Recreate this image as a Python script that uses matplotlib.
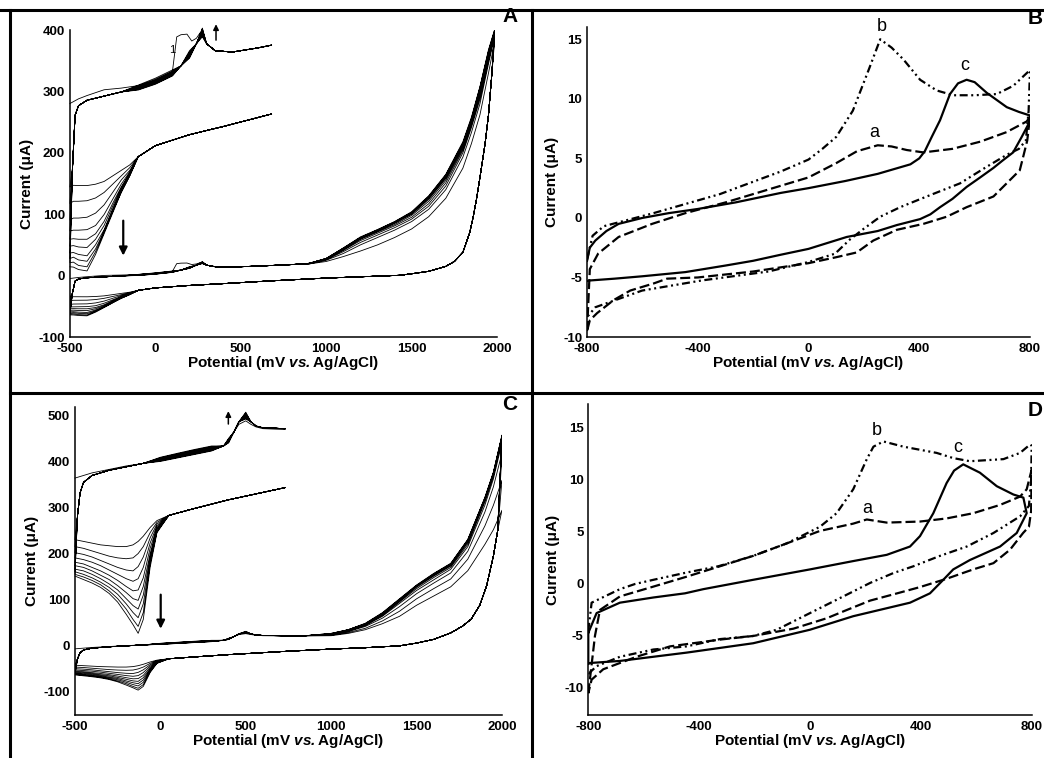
"""
cyclic voltammograms: repeated cycling (A, C) and three electrodes a/b/c (B, D)
"""

import matplotlib.pyplot as plt
import numpy as np
from matplotlib.lines import Line2D

plt.rcParams["font.family"] = ["Liberation Sans", "DejaVu Sans"]
plt.rcParams["mathtext.fontset"] = "custom"
plt.rcParams["mathtext.rm"] = "Liberation Sans"
plt.rcParams["mathtext.bf"] = "Liberation Sans:bold"
plt.rcParams["mathtext.bfit"] = "Liberation Sans:italic:bold"
plt.rcParams["axes.unicode_minus"] = False

XLABEL = r"Potential (mV $\mathbfit{vs.}$Ag/AgCl)"
YLABEL = "Current (μA)"

# ---------------- panel A: repeated cycling, -500 .. 2000 mV ----------------
A_first_x = [-500, -450, -400, -300, -200, -100, 0, 60, 100, 110, 125, 150, 185, 213, 240, 262, 280, 300, 350, 450, 600, 680, 800]
A_first_y = [-4.7, -3.0, -1.8, 0.3, 0.9, 1.8, 3.5, 5.2, 7.0, 12.0, 19.5, 20.3, 20.5, 18.0, 19.0, 21.0, 19.5, 17.0, 14.5, 14.0, 15.5, 16.5, 18.0]

A_fwd_x = [-485, -470, -450, -400, -300, -200, -100, 0, 100, 150, 200, 240, 275, 300, 350, 450, 600, 680, 800]
A_fwd_y = [-28, -9, -5.5, -3.5, -2, -0.5, 1, 3.3, 6.5, 9, 13, 17, 21, 17, 14.5, 14, 15.5, 16.5, 18]
# cycle-to-cycle values of the forward sweep (cycles 2..10)
A_var_x = [-100, 0, 100, 200, 275]
A_var = [
    [2.0, 4.5, 7.5, 14.5, 19.5],
    [1.7, 4.1, 7.1, 14.0, 20.0],
    [1.4, 3.8, 6.8, 13.6, 20.5],
    [1.2, 3.5, 6.5, 13.2, 21.0],
    [1.0, 3.2, 6.2, 12.8, 21.4],
    [0.8, 3.0, 5.9, 12.5, 21.8],
    [0.6, 2.7, 5.7, 12.2, 22.1],
    [0.4, 2.5, 5.5, 12.0, 22.4],
    [0.2, 2.3, 5.3, 11.8, 22.7],
]

A_ox_x = [900, 1000, 1100, 1200, 1300, 1400, 1500, 1600, 1700, 1800, 1850, 1900, 1950, 1985]
A_ox = [
    [19, 23, 31, 40, 50, 62, 76, 96, 126, 175, 215, 262, 330, 380],
    [19, 25, 36, 50, 62, 74, 88, 108, 140, 193, 233, 280, 345, 388],
    [19.5, 26, 39, 54, 66, 78, 92, 113, 146, 200, 241, 287, 350, 391],
    [19.5, 26.5, 41, 57, 69, 81, 95, 117, 151, 204, 245, 292, 354, 393],
    [20, 27, 42, 59, 71, 83, 98, 121, 155, 207, 248, 296, 357, 395],
    [20, 27.5, 43, 60, 72, 85, 100, 124, 158, 210, 250, 300, 360, 396],
    [20, 27.5, 44, 61, 73, 86, 101, 126, 160, 212, 252, 303, 362, 397],
    [20, 28, 44, 62, 74, 87, 102, 128, 162, 214, 254, 305, 364, 398],
    [20, 28, 45, 62, 74.5, 87.5, 103, 129, 164, 216, 256, 307, 366, 399],
    [20, 28, 45, 63, 75, 88, 104, 130, 165, 218, 258, 308, 368, 400],
]

A_rev_x = [1970, 1950, 1930, 1900, 1880, 1860, 1840, 1800, 1750, 1700, 1600, 1500, 1430, 1200, 1000, 680, 400, 200, 0, -100]
A_rev_y = [330, 262, 215, 160, 125, 95, 70, 38, 23, 15, 7, 3, 0.5, -2, -4, -8.5, -13, -16, -20, -24]

A_tail_x = [-150, -200, -250, -300, -350, -400, -450, -480, -500]
A_tail = [
    [-27, -29, -31, -33, -34, -34.5, -34.5, -34.4, -35],
    [-28, -31, -34, -37, -39, -40, -40.2, -40.2, -41],
    [-29, -32.5, -37, -41.5, -44.5, -46, -46.3, -46.3, -47],
    [-29.5, -34, -39.5, -45, -49, -50.5, -50.7, -50.7, -51],
    [-30, -35, -41, -47.5, -52, -54, -54, -53.8, -54],
    [-30, -35.5, -42, -49, -54, -57, -56.8, -56.3, -56.5],
    [-30.5, -36, -43, -50.5, -56, -60, -59.5, -58.8, -59],
    [-30.5, -36.5, -43.5, -51, -57.5, -62, -61.5, -60.5, -61],
    [-31, -37, -44, -51.5, -58.5, -64, -63.5, -62.3, -62.5],
    [-31, -37, -44.5, -52, -59.5, -65.5, -65, -64.1, -64],
]

# ---------------- panel C: repeated cycling, -500 .. 2000 mV ----------------
C_first_x = [-500, -400, -300, -200, -100, 0, 100, 200, 300, 370, 400, 430, 460, 500, 530, 560, 600, 730, 850]
C_first_y = [-6.5, -3.5, -1.5, 0.5, 2, 4, 6, 8, 10, 12, 15, 20, 24.5, 26.5, 24.5, 23, 22, 21.5, 21.5]

C_fwd_x = [-485, -470, -450, -400, -300, -200, -100, 0, 100, 200, 300, 370, 400, 430, 460, 500, 530, 560, 600, 730, 850]
C_fwd_y = [-28, -15, -9, -5, -2, 0, 2, 4, 6, 8, 10, 12, 15, 20, 26, 30, 26, 23.5, 22.5, 22, 22]
C_var_x = [0, 100, 200, 300, 400, 500]
C_var = [
    [5.5, 7.8, 10.0, 12.0, 16.5, 27.5],
    [5.2, 7.4, 9.6, 11.6, 16.1, 28.0],
    [4.9, 7.0, 9.2, 11.2, 15.7, 28.5],
    [4.6, 6.6, 8.8, 10.8, 15.3, 29.0],
    [4.3, 6.3, 8.4, 10.4, 15.0, 29.5],
    [4.0, 6.0, 8.0, 10.0, 14.7, 30.0],
    [3.7, 5.7, 7.7, 9.7, 14.4, 30.5],
    [3.4, 5.4, 7.4, 9.4, 14.1, 31.0],
    [3.1, 5.1, 7.1, 9.1, 13.8, 31.5],
]

C_ox_x = [1000, 1100, 1200, 1300, 1400, 1500, 1600, 1700, 1800, 1900, 1950, 2000]
C_ox = [
    [22, 27, 35, 48, 64, 88, 108, 128, 163, 220, 252, 294],
    [23, 29, 38, 54, 75, 102, 124, 145, 188, 260, 305, 359],
    [24, 31, 42, 60, 85, 113, 136, 158, 205, 290, 345, 418],
    [25, 32, 44, 64, 92, 120, 143, 166, 215, 305, 362, 440],
    [25, 33, 45, 66, 95, 124, 148, 170, 220, 312, 368, 448],
    [26, 34, 46, 68, 97, 127, 151, 173, 224, 316, 372, 452],
    [26, 34, 47, 69, 99, 129, 153, 175, 227, 318, 374, 454],
    [26, 35, 48, 70, 100, 130, 155, 177, 229, 320, 375, 455],
    [27, 35, 48, 71, 101, 131, 156, 178, 230, 321, 376, 456],
    [27, 35, 49, 72, 102, 132, 157, 179, 231, 322, 377, 457],
]

C_rev_x = [1975, 1950, 1910, 1870, 1820, 1770, 1700, 1600, 1500, 1400, 1200, 1000, 730, 400, 200, 50]
C_rev_y = [250, 195, 130, 88, 58, 43, 28, 14, 6, 0, -4, -7, -12, -19, -24, -28]

C_tail_x = [-20, -60, -100, -130, -160, -200, -250, -300, -350, -400, -450, -500]
C_tail = [
    [-31, -35, -40, -43, -45, -46, -46, -45.5, -45, -44, -43, -42],
    [-32, -38, -46, -50, -52.5, -53, -52.5, -51.5, -50, -48.5, -47, -46],
    [-33, -41, -52, -57.5, -60, -59.5, -58, -56, -54, -52, -50.5, -49.5],
    [-34, -44, -58, -64.5, -66, -64.5, -62, -59.5, -57, -55, -53.5, -52.5],
    [-35, -47, -64, -71, -71.5, -69, -65.5, -62.5, -60, -58, -56, -55],
    [-35.5, -50, -69, -77, -76, -72.5, -68.5, -65, -62.5, -60, -58, -57],
    [-36, -52, -74, -82, -80, -76, -71, -67.5, -64.5, -62, -60, -59],
    [-37, -54, -79, -87, -84, -79, -73.5, -69.5, -66.5, -64, -62, -60.5],
    [-37.5, -56, -84, -92, -88, -82, -76, -71.5, -68, -65.5, -63.5, -62],
    [-38, -58, -88, -96, -91, -85, -78, -73, -69.5, -67, -65, -63],
]

# ---------------- panel B: electrodes a, b, c ----------------
B_a_x = [-800, -790, -760, -686, -565, -445, -300, -200, -100, 0, 100, 175, 250, 300, 355, 415, 520, 620, 715, 788, 800,
         790, 775, 763, 668, 571, 499, 415, 319, 234, 174, 100, 0, -200, -400, -511, -559, -644, -704, -764, -790, -800]
B_a_y = [-9.5, -4.3, -3.0, -1.6, -0.5, 0.4, 1.3, 2.0, 2.7, 3.4, 4.6, 5.6, 6.1, 6.0, 5.7, 5.5, 5.8, 6.4, 7.2, 8.1, 8.5,
         6.5, 5.1, 4.0, 1.8, 0.9, 0.1, -0.5, -1.0, -1.9, -2.9, -3.3, -3.8, -4.5, -5.0, -5.1, -5.5, -6.1, -6.9, -8.0, -8.6, -9.5]
B_b_x = [-800, -780, -740, -560, -320, -100, 0, 50, 100, 160, 220, 259, 300, 343, 403, 463, 523, 600, 680, 740, 790, 800,
         795, 785, 760, 716, 644, 547, 427, 331, 259, 200, 150, 96, 0, -145, -385, -601, -770, -795]
B_b_y = [-3.5, -1.5, -0.7, 0.4, 2.0, 3.9, 4.9, 5.8, 6.8, 9.0, 12.6, 15.0, 14.3, 13.3, 11.6, 10.7, 10.3, 10.3, 10.4, 11.1, 12.2, 12.4,
         9.0, 6.5, 5.8, 5.3, 4.3, 2.9, 1.8, 0.9, 0.1, -0.9, -1.8, -3.0, -3.7, -4.5, -5.25, -6.1, -7.5, -8.2]
B_c_x = [-800, -790, -770, -730, -686, -600, -505, -400, -264, -100, 0, 133, 250, 368, 400, 420, 445, 475, 511, 540, 571, 600, 644, 716, 760, 800,
         795, 770, 739, 700, 668, 620, 571, 520, 475, 440, 403, 319, 250, 138, 0, -102, -200, -300, -445, -600, -700, -788, -800]
B_c_y = [-3.6, -2.5, -1.9, -1.1, -0.5, 0.0, 0.4, 0.75, 1.3, 2.1, 2.5, 3.1, 3.7, 4.5, 5.0, 5.6, 6.8, 8.2, 10.4, 11.3, 11.6, 11.4, 10.5, 9.3, 8.9, 8.6,
         7.9, 6.8, 5.5, 4.8, 4.2, 3.4, 2.6, 1.6, 0.9, 0.3, -0.1, -0.6, -1.1, -1.6, -2.6, -3.1, -3.6, -4.0, -4.55, -4.9, -5.1, -5.25, -5.3]

# ---------------- panel D: electrodes a, b, c ----------------
D_a_x = [-800, -776, -758, -686, -571, -445, -325, -205, -84, 36, 156, 205, 277, 397, 493, 589, 686, 758, 782, 800,
         798, 790, 769, 722, 662, 589, 493, 397, 301, 217, 133, 60, -60, -205, -325, -505, -626, -746, -788, -800]
D_a_y = [-10.5, -5.0, -2.5, -1.2, -0.3, 0.7, 1.7, 2.7, 3.9, 5.1, 5.8, 6.2, 5.9, 6.0, 6.3, 6.8, 7.6, 8.4, 9.1, 11.0,
         7.0, 5.5, 4.9, 3.3, 2.0, 1.4, 0.5, -0.3, -1.0, -1.6, -2.5, -3.3, -4.3, -5.0, -5.35, -6.0, -7.0, -8.2, -9.2, -10.5]
D_b_x = [-800, -788, -686, -631, -565, -445, -331, -205, -84, 36, 96, 156, 205, 229, 265, 337, 457, 517, 577, 698, 758, 794, 800,
         798, 790, 758, 662, 566, 469, 373, 301, 217, 120, 0, -120, -205, -325, -445, -565, -686, -770, -794, -800]
D_b_y = [-4.5, -1.8, -0.5, 0.0, 0.4, 1.1, 1.7, 2.7, 3.9, 5.5, 6.8, 9.1, 12.0, 13.2, 13.7, 13.2, 12.6, 12.1, 11.8, 12.0, 12.6, 13.4, 13.3,
         10.0, 7.5, 6.5, 4.9, 3.6, 2.7, 1.7, 1.05, 0.1, -1.2, -2.8, -4.4, -5.0, -5.3, -6.0, -6.3, -7.0, -7.9, -8.5, -9.0]
D_c_x = [-800, -770, -686, -565, -451, -385, -205, 0, 156, 277, 361, 397, 445, 493, 520, 553, 613, 674, 734, 770,
         782, 746, 686, 577, 517, 481, 433, 361, 156, 0, -205, -445, -686, -794, -800, -800]
D_c_y = [-4.7, -2.8, -1.8, -1.3, -0.9, -0.5, 0.4, 1.4, 2.2, 2.8, 3.6, 4.6, 6.8, 9.7, 10.9, 11.5, 10.7, 9.4, 8.6, 8.3,
         6.8, 4.9, 3.6, 2.3, 1.4, 0.4, -0.9, -1.8, -3.1, -4.4, -5.7, -6.6, -7.4, -7.6, -7.7, -4.7]


def build_cycles(first_x, first_y, fwd_x, fwd_y, var_x, var_rows, ox_x, ox_rows, rev_x, rev_y, tail_x, tail_rows):
    # one continuous trace: forward sweep, oxidation wing, return sweep, cathodic tail, next cycle...
    xs, ys = [], []
    for k, (ox_y, tail_y) in enumerate(zip(ox_rows, tail_rows)):
        if k == 0:
            fx, fy = first_x, first_y
        else:
            fx, fy = fwd_x, list(fwd_y)
            for vx, vy in zip(var_x, var_rows[k - 1]):
                fy[fwd_x.index(vx)] = vy
        xs += fx + ox_x + rev_x + tail_x
        ys += fy + ox_y + rev_y + tail_y
    return np.array(xs, dtype=float), np.array(ys, dtype=float)


def style_axes(ax, xlim, ylim, xticks, yticks, ylab_x, xlab_y):
    ax.set_xlim(xlim)
    ax.set_ylim(ylim)
    ax.set_xticks(xticks)
    ax.set_yticks(yticks)
    for s in ("top", "right"):
        ax.spines[s].set_visible(False)
    for s in ("left", "bottom"):
        ax.spines[s].set_linewidth(1.1)
    ax.tick_params(length=0, labelsize=9.5)
    ax.tick_params(axis="x", pad=4)
    ax.tick_params(axis="y", pad=3.5)
    for lab in ax.get_xticklabels() + ax.get_yticklabels():
        lab.set_fontweight("bold")
    ax.set_xlabel(XLABEL, fontsize=11, fontweight="bold")
    ax.set_ylabel(YLABEL, fontsize=11, fontweight="bold")
    ax.yaxis.set_label_coords(ylab_x, 0.5)
    ax.xaxis.set_label_coords(0.5, xlab_y)


def cycling_panel(fig, rect, trace, ylim, yticks, inset_ylim, cut):
    ax = fig.add_axes(rect)
    x, y = trace
    ax.plot(x, y, color="black", lw=0.6)
    # magnified copy of the low-potential part, drawn without axes
    ax_in = fig.add_axes(rect, zorder=3)
    ax_in.set_xlim(-500, 2000)
    ax_in.set_ylim(inset_ylim)
    ax_in.axis("off")
    ax_in.plot(x, np.where(x <= cut, y, np.nan), color="black", lw=0.6, clip_on=False)
    style_axes(ax, (-500, 2000), ylim, [-500, 0, 500, 1000, 1500, 2000], yticks, -0.085, -0.054)
    return ax


def electrode_panel(fig, rect, curves, ylim, labels):
    ax = fig.add_axes(rect)
    (ax_, ay), (bx, by), (cx, cy) = curves
    ax.plot(ax_, ay, color="black", lw=1.6, dashes=(4.5, 1.8))
    ax.plot(bx, by, color="black", lw=1.6, dashes=(3.6, 1.6, 0.9, 1.6, 0.9, 1.6))
    ax.plot(cx, cy, color="black", lw=1.6)
    for txt, (lx, ly) in labels.items():
        ax.text(lx, ly, txt, fontsize=13, ha="center", va="center")
    style_axes(ax, (-800, 800), ylim, [-800, -400, 0, 400, 800], [-10, -5, 0, 5, 10, 15], -0.064, -0.055)
    return ax


fig = plt.figure(figsize=(10.44, 7.58), dpi=100)

trace_A = build_cycles(A_first_x, A_first_y, A_fwd_x, A_fwd_y, A_var_x, A_var,
                       A_ox_x, A_ox, A_rev_x, A_rev_y, A_tail_x, A_tail)
ax_A = cycling_panel(fig, [0.0670, 0.5554, 0.4091, 0.4050], trace_A, (-100, 400),
                     [-100, 0, 100, 200, 300, 400], (-89.5, 22), 680)
ax_A.annotate("", xy=(-188, 28), xytext=(-188, 94), annotation_clip=False,
              arrowprops=dict(arrowstyle="-|>", color="black", lw=1.6, mutation_scale=12))
ax_A.annotate("", xy=(355, 414), xytext=(355, 379), annotation_clip=False,
              arrowprops=dict(arrowstyle="-|>", color="black", lw=1.1, mutation_scale=8))
ax_A.text(97, 367, "1", fontsize=8, ha="center", va="center")

trace_C = build_cycles(C_first_x, C_first_y, C_fwd_x, C_fwd_y, C_var_x, C_var,
                       C_ox_x, C_ox, C_rev_x, C_rev_y, C_tail_x, C_tail)
ax_C = cycling_panel(fig, [0.0718, 0.0567, 0.4090, 0.4064], trace_C, (-150, 518),
                     [-100, 0, 100, 200, 300, 400, 500], (-143.1, 34.5), 730)
ax_C.annotate("", xy=(2, 31), xytext=(2, 117), annotation_clip=False,
              arrowprops=dict(arrowstyle="-|>", color="black", lw=1.6, mutation_scale=12))
ax_C.annotate("", xy=(398, 515), xytext=(398, 475), annotation_clip=False,
              arrowprops=dict(arrowstyle="-|>", color="black", lw=1.1, mutation_scale=8))

ax_B = electrode_panel(fig, [0.5623, 0.5554, 0.4243, 0.4085],
                       [(B_a_x, B_a_y), (B_b_x, B_b_y), (B_c_x, B_c_y)], (-10, 16),
                       {"a": (237, 7.2), "b": (265, 16.1), "c": (565, 12.8)})
ax_D = electrode_panel(fig, [0.5635, 0.0567, 0.4247, 0.4103],
                       [(D_a_x, D_a_y), (D_b_x, D_b_y), (D_c_x, D_c_y)], (-12.6, 17.3),
                       {"a": (205, 7.3), "b": (241, 14.8), "c": (535, 13.1)})

# panel letters
for txt, px, py, ha in (("A", 0.4885, 0.9776, "center"), ("B", 0.9990, 0.9760, "right"),
                        ("C", 0.4885, 0.4657, "center"), ("D", 0.9990, 0.4590, "right")):
    fig.text(px, py, txt, fontsize=15, fontweight="bold", ha=ha, va="center")

# frame lines between the panels
for xs, ys in (([0.0, 1.0], [0.9868, 0.9868]), ([0.0096, 0.0096], [0.0, 0.9868]),
               ([0.5091, 0.5091], [0.0, 0.9868]), ([0.0096, 1.0], [0.4815, 0.4815])):
    fig.add_artist(Line2D(xs, ys, transform=fig.transFigure, color="black", lw=2.2))

fig.savefig("out.png", dpi=100)
